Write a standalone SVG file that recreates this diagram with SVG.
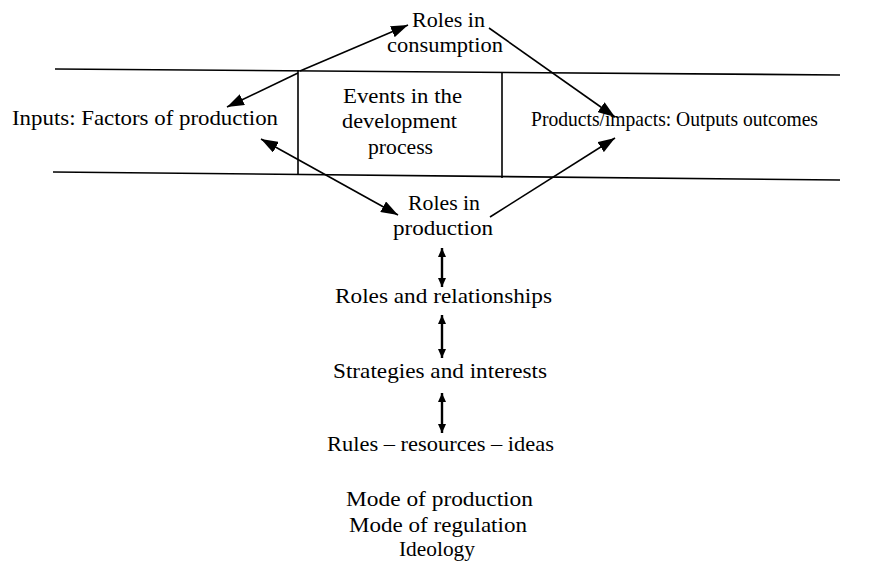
<svg xmlns="http://www.w3.org/2000/svg" width="880" height="564" viewBox="0 0 880 564">
  <style>
    .t { font-family: "Liberation Serif", "Times New Roman", serif; font-size: 22px; fill: #000; }
    .rule { stroke: #000; stroke-width: 1.6; fill: none; }
    .arr { stroke: #000; stroke-width: 1.6; fill: none; }
    .big { marker-end: url(#head); }
    .bigboth { marker-start: url(#headStart); marker-end: url(#head); }
    .small { stroke-width: 2.4; marker-start: url(#tipStart); marker-end: url(#tip); }
  </style>
  <defs>
    <marker id="head" markerUnits="userSpaceOnUse" markerWidth="18" markerHeight="12" refX="17" refY="6" orient="auto">
      <path d="M0,0 L17,6 L0,12 z" fill="#000"/>
    </marker>
    <marker id="headStart" markerUnits="userSpaceOnUse" markerWidth="18" markerHeight="12" refX="1" refY="6" orient="auto">
      <path d="M18,0 L1,6 L18,12 z" fill="#000"/>
    </marker>
    <marker id="tip" markerUnits="userSpaceOnUse" markerWidth="10" markerHeight="8" refX="9" refY="4" orient="auto">
      <path d="M0,0 L9,4 L0,8 z" fill="#000"/>
    </marker>
    <marker id="tipStart" markerUnits="userSpaceOnUse" markerWidth="10" markerHeight="8" refX="1" refY="4" orient="auto">
      <path d="M10,0 L1,4 L10,8 z" fill="#000"/>
    </marker>
  </defs>

  <rect width="880" height="564" fill="#fff"/>

  <!-- band of the development process -->
  <g id="band">
    <line class="rule" x1="55" y1="69" x2="840" y2="75"/>
    <line class="rule" x1="53" y1="172" x2="840" y2="180"/>
    <line class="rule" x1="298" y1="70" x2="298" y2="174"/>
    <line class="rule" x1="502" y1="72" x2="502" y2="178"/>
  </g>

  <g id="inputs">
    <text class="t" x="12" y="125" textLength="266" lengthAdjust="spacingAndGlyphs">Inputs: Factors of production</text>
  </g>

  <g id="roles-consumption">
    <text class="t" x="412" y="27" textLength="73" lengthAdjust="spacingAndGlyphs">Roles in</text>
    <text class="t" x="387" y="52" textLength="116" lengthAdjust="spacingAndGlyphs">consumption</text>
  </g>

  <g id="events">
    <text class="t" x="343" y="103" textLength="119" lengthAdjust="spacingAndGlyphs">Events in the</text>
    <text class="t" x="342" y="128" textLength="115" lengthAdjust="spacingAndGlyphs">development</text>
    <text class="t" x="368" y="154" textLength="65" lengthAdjust="spacingAndGlyphs">process</text>
  </g>

  <g id="products">
    <text class="t" x="531" y="126" textLength="287" lengthAdjust="spacingAndGlyphs">Products/impacts: Outputs outcomes</text>
  </g>

  <g id="roles-production">
    <text class="t" x="408" y="210" textLength="72" lengthAdjust="spacingAndGlyphs">Roles in</text>
    <text class="t" x="393" y="235" textLength="100" lengthAdjust="spacingAndGlyphs">production</text>
  </g>

  <g id="roles-relationships">
    <text class="t" x="335" y="303" textLength="217" lengthAdjust="spacingAndGlyphs">Roles and relationships</text>
  </g>

  <g id="strategies">
    <text class="t" x="333" y="378" textLength="214" lengthAdjust="spacingAndGlyphs">Strategies and interests</text>
  </g>

  <g id="rules">
    <text class="t" x="327" y="451" textLength="227" lengthAdjust="spacingAndGlyphs">Rules – resources – ideas</text>
  </g>

  <g id="structures">
    <text class="t" x="346" y="506" textLength="187" lengthAdjust="spacingAndGlyphs">Mode of production</text>
    <text class="t" x="349" y="532" textLength="178" lengthAdjust="spacingAndGlyphs">Mode of regulation</text>
    <text class="t" x="399" y="556" textLength="76" lengthAdjust="spacingAndGlyphs">Ideology</text>
  </g>

  <!-- connectors -->
  <g id="connectors">
    <line class="arr big" x1="300" y1="71" x2="408" y2="25"/>
    <line class="arr big" x1="298" y1="73" x2="227" y2="107"/>
    <line class="arr big" x1="489" y1="28" x2="615" y2="117"/>
    <line class="arr big" x1="490" y1="217" x2="615" y2="138"/>
    <line class="arr bigboth" x1="261" y1="139" x2="398" y2="215"/>
    <line class="arr small" x1="442" y1="248" x2="442" y2="287"/>
    <line class="arr small" x1="442" y1="315" x2="442" y2="358"/>
    <line class="arr small" x1="442" y1="393" x2="442" y2="433"/>
  </g>
</svg>
